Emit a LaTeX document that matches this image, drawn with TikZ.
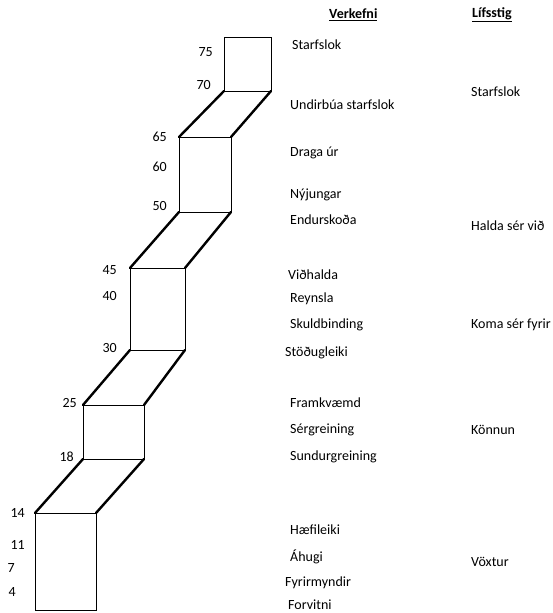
\documentclass[tikz,border=0pt]{standalone}
\usepackage{fontspec}
\setmainfont{Carlito}
\usepackage{tikz}

\begin{document}
\begin{tikzpicture}[x=1pt,y=-1pt,font=\fontsize{14}{16}\selectfont]
\useasboundingbox (0,0) rectangle (553,613);
\tikzset{thinbox/.style={line width=0.9pt},
         fold/.style={line width=2.4pt,line cap=round}}

% boxes (top to bottom)
\coordinate (a1) at (224,37);
\coordinate (a2) at (271,37);
\coordinate (a3) at (271,91);
\coordinate (a4) at (224,91);
\draw[thinbox] (a1) -- (a2) -- (a3) -- (a4) -- cycle;

\coordinate (b1) at (179,137);
\coordinate (b2) at (231,137);
\coordinate (b3) at (231,212);
\coordinate (b4) at (179,212);
\draw[thinbox] (b1) -- (b2) -- (b3) -- (b4) -- cycle;

\coordinate (c1) at (130,268);
\coordinate (c2) at (185,268);
\coordinate (c3) at (185,350);
\coordinate (c4) at (130,350);
\draw[thinbox] (c1) -- (c2) -- (c3) -- (c4) -- cycle;

\coordinate (d1) at (83,405);
\coordinate (d2) at (144,405);
\coordinate (d3) at (144,459);
\coordinate (d4) at (83,459);
\draw[thinbox] (d1) -- (d2) -- (d3) -- (d4) -- cycle;

\coordinate (e1) at (35,513);
\coordinate (e2) at (96,513);
\coordinate (e3) at (96,610);
\coordinate (e4) at (35,610);
\draw[thinbox] (e1) -- (e2) -- (e3) -- (e4) -- cycle;

% steps between boxes
\draw[fold] [-] (a4) -- (b1);
\draw[fold] [-] (a3) -- (b2);
\draw[fold] [-] (b4) -- (c1);
\draw[fold] [-] (b3) -- (c2);
\draw[fold] [-] (c4) -- (d1);
\draw[fold] [-] (c3) -- (d2);
\draw[fold] [-] (d4) -- (e1);
\draw[fold] [-] (d3) -- (e2);

% ages
\foreach \a/\x/\y in {75/213/52,70/211/85,65/167/137,60/167/167,50/167/206,
  45/117/270,40/117/296,30/117/348,25/77/403,18/74/457,
  14/25/513,11/25/545,7/15/568,4/16/592}
{
  \node[anchor=east,inner sep=0pt] (age\a) at (\x,\y) {\a};
}

% tasks
\node[anchor=west,inner sep=0pt] (verk) at (329,15) {\underline{\textbf{Verkefni}}};
\foreach \t/\x/\y [count=\i] in {Starfslok/292/45,Undirbúa starfslok/290/105,
  Draga úr/290/153,Nýjungar/290/195,Endurskoða/290/220,Viðhalda/288/275,
  Reynsla/290/299,Skuldbinding/290/325,Stöðugleiki/285/353,Framkvæmd/290/403,
  Sérgreining/290/430,Sundurgreining/290/457,Hæfileiki/290/530,Áhugi/290/557,
  Fyrirmyndir/285/583,Forvitni/288/605}
{
  \node[anchor=west,inner sep=0pt] (task\i) at (\x,\y) {\t};
}

% life stages
\node[anchor=west,inner sep=0pt] (lif) at (472,15) {\underline{\textbf{Lífsstig}}};
\foreach \t/\y [count=\i] in {Starfslok/92,Halda sér við/226,Koma sér fyrir/325,
  Könnun/430,Vöxtur/562}
{
  \node[anchor=west,inner sep=0pt] (stage\i) at (471,\y) {\t};
}

\end{tikzpicture}
\end{document}
